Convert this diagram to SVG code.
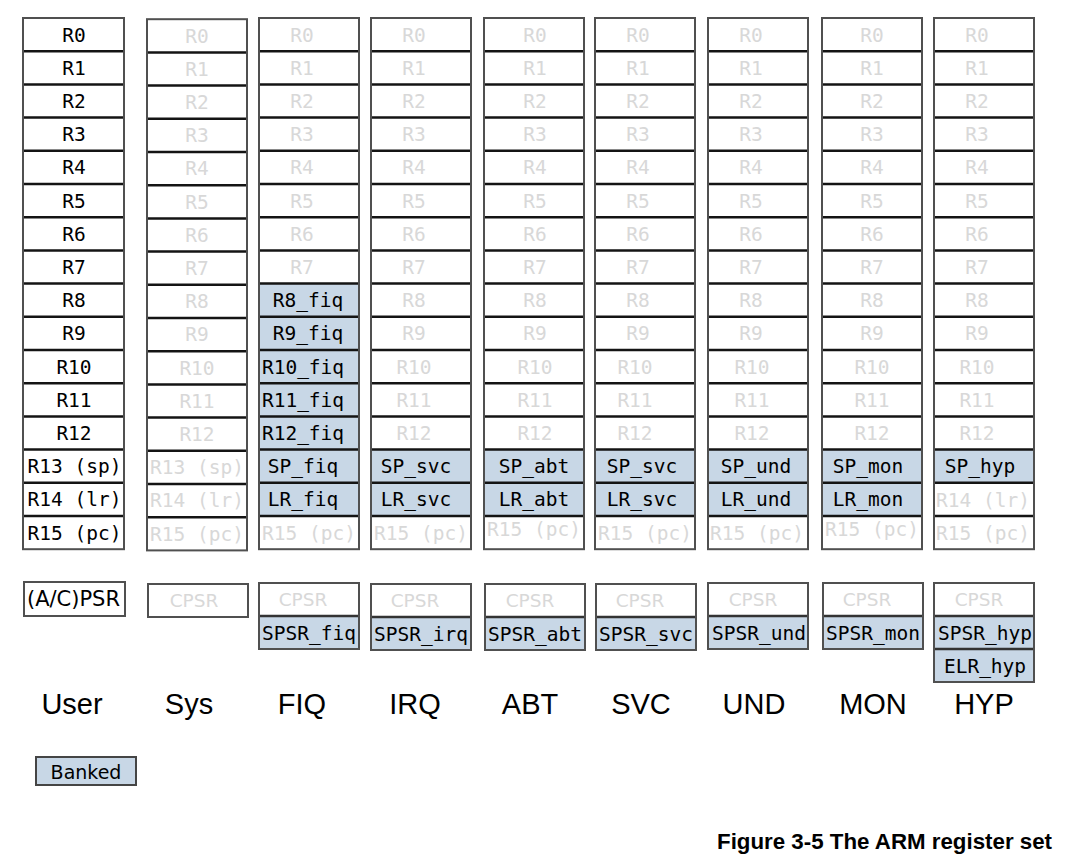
<svg xmlns="http://www.w3.org/2000/svg" width="1077" height="863" viewBox="0 0 1077 863">
<style>
.c{fill:#fff;stroke:none}
.b{fill:#c8d7e6;stroke:none}
.sep{stroke:#141414;stroke-width:2.5;fill:none}
.out{fill:none;stroke:#505050;stroke-width:2}
.t{font-family:"DejaVu Sans Mono","Liberation Mono",monospace;font-size:19.5px;text-anchor:middle;fill:#000}
.g{fill:#d8d8d8}
.p{font-family:"DejaVu Sans","Liberation Sans",sans-serif;font-size:18.5px;text-anchor:middle;fill:#d8d8d8}
.m{font-family:"Liberation Sans",Arial,sans-serif;font-size:29px;text-anchor:middle;fill:#000}
.cap{font-family:"Liberation Sans",Arial,sans-serif;font-size:22.3px;font-weight:bold;text-anchor:end;fill:#000}
</style>
<rect width="1077" height="863" fill="#fff"/>

<!-- User column -->
<g id="col-user">
<rect class="c" x="23" y="18" width="101" height="531.2"/>
<path class="sep" d="M23 51.2H124M23 84.4H124M23 117.6H124M23 150.8H124M23 184H124M23 217.2H124M23 250.4H124M23 283.6H124M23 316.8H124M23 350H124M23 383.2H124M23 416.4H124M23 449.6H124M23 482.8H124M23 516H124"/>
<rect class="out" x="23" y="18" width="101" height="531.2"/>
<text class="t" x="74" y="41.5">R0</text>
<text class="t" x="74" y="74.7">R1</text>
<text class="t" x="74" y="107.9">R2</text>
<text class="t" x="74" y="141.1">R3</text>
<text class="t" x="74" y="174.3">R4</text>
<text class="t" x="74" y="207.5">R5</text>
<text class="t" x="74" y="240.7">R6</text>
<text class="t" x="74" y="273.9">R7</text>
<text class="t" x="74" y="307.1">R8</text>
<text class="t" x="74" y="340.3">R9</text>
<text class="t" x="74" y="373.5">R10</text>
<text class="t" x="74" y="406.7">R11</text>
<text class="t" x="74" y="439.9">R12</text>
<text class="t" x="74.5" y="473.1">R13 (sp)</text>
<text class="t" x="74.5" y="506.3">R14 (lr)</text>
<text class="t" x="74.5" y="539.5">R15 (pc)</text>
</g>

<!-- Sys column -->
<g id="col-sys" transform="translate(0,1.2)">
<rect class="c" x="147" y="18" width="100" height="531.2"/>
<path class="sep" d="M147 51.2H247M147 84.4H247M147 117.6H247M147 150.8H247M147 184H247M147 217.2H247M147 250.4H247M147 283.6H247M147 316.8H247M147 350H247M147 383.2H247M147 416.4H247M147 449.6H247M147 482.8H247M147 516H247"/>
<rect class="out" x="147" y="18" width="100" height="531.2"/>
<g class="t g">
<text x="197" y="41.5">R0</text><text x="197" y="74.7">R1</text><text x="197" y="107.9">R2</text><text x="197" y="141.1">R3</text><text x="197" y="174.3">R4</text><text x="197" y="207.5">R5</text><text x="197" y="240.7">R6</text><text x="197" y="273.9">R7</text><text x="197" y="307.1">R8</text><text x="197" y="340.3">R9</text><text x="197" y="373.5">R10</text><text x="197" y="406.7">R11</text><text x="197" y="439.9">R12</text><text x="197" y="473.1">R13 (sp)</text><text x="197" y="506.3">R14 (lr)</text><text x="197" y="539.5">R15 (pc)</text>
</g>
</g>

<!-- FIQ column -->
<g id="col-fiq">
<rect class="c" x="259" y="18" width="100" height="531.2"/>
<rect class="b" x="259" y="283.6" width="100" height="232.4"/>
<path class="sep" d="M259 51.2H359M259 84.4H359M259 117.6H359M259 150.8H359M259 184H359M259 217.2H359M259 250.4H359M259 283.6H359M259 316.8H359M259 350H359M259 383.2H359M259 416.4H359M259 449.6H359M259 482.8H359M259 516H359"/>
<rect class="out" x="259" y="18" width="100" height="531.2"/>
<g class="t g">
<text x="302" y="41.5">R0</text><text x="302" y="74.7">R1</text><text x="302" y="107.9">R2</text><text x="302" y="141.1">R3</text><text x="302" y="174.3">R4</text><text x="302" y="207.5">R5</text><text x="302" y="240.7">R6</text><text x="302" y="273.9">R7</text><text x="309" y="539.5">R15 (pc)</text>
</g>
<text class="t" x="308" y="307.1">R8_fiq</text>
<text class="t" x="308" y="340.3">R9_fiq</text>
<text class="t" x="303" y="373.5">R10_fiq</text>
<text class="t" x="303" y="406.7">R11_fiq</text>
<text class="t" x="303" y="439.9">R12_fiq</text>
<text class="t" x="303" y="473.1">SP_fiq</text>
<text class="t" x="303" y="506.3">LR_fiq</text>
</g>

<!-- IRQ column -->
<g id="col-irq">
<rect class="c" x="371" y="18" width="100" height="531.2"/>
<rect class="b" x="371" y="449.6" width="100" height="66.4"/>
<path class="sep" d="M371 51.2H471M371 84.4H471M371 117.6H471M371 150.8H471M371 184H471M371 217.2H471M371 250.4H471M371 283.6H471M371 316.8H471M371 350H471M371 383.2H471M371 416.4H471M371 449.6H471M371 482.8H471M371 516H471"/>
<rect class="out" x="371" y="18" width="100" height="531.2"/>
<g class="t g">
<text x="414" y="41.5">R0</text><text x="414" y="74.7">R1</text><text x="414" y="107.9">R2</text><text x="414" y="141.1">R3</text><text x="414" y="174.3">R4</text><text x="414" y="207.5">R5</text><text x="414" y="240.7">R6</text><text x="414" y="273.9">R7</text><text x="414" y="307.1">R8</text><text x="414" y="340.3">R9</text><text x="414" y="373.5">R10</text><text x="414" y="406.7">R11</text><text x="414" y="439.9">R12</text><text x="421" y="539.5">R15 (pc)</text>
</g>
<text class="t" x="416" y="473.1">SP_svc</text>
<text class="t" x="416" y="506.3">LR_svc</text>
</g>

<!-- ABT column -->
<g id="col-abt">
<rect class="c" x="484" y="18" width="100" height="531.2"/>
<rect class="b" x="484" y="449.6" width="100" height="66.4"/>
<path class="sep" d="M484 51.2H584M484 84.4H584M484 117.6H584M484 150.8H584M484 184H584M484 217.2H584M484 250.4H584M484 283.6H584M484 316.8H584M484 350H584M484 383.2H584M484 416.4H584M484 449.6H584M484 482.8H584M484 516H584"/>
<rect class="out" x="484" y="18" width="100" height="531.2"/>
<g class="t g">
<text x="535" y="41.5">R0</text><text x="535" y="74.7">R1</text><text x="535" y="107.9">R2</text><text x="535" y="141.1">R3</text><text x="535" y="174.3">R4</text><text x="535" y="207.5">R5</text><text x="535" y="240.7">R6</text><text x="535" y="273.9">R7</text><text x="535" y="307.1">R8</text><text x="535" y="340.3">R9</text><text x="535" y="373.5">R10</text><text x="535" y="406.7">R11</text><text x="535" y="439.9">R12</text><text x="534" y="535.5">R15 (pc)</text>
</g>
<text class="t" x="534" y="473.1">SP_abt</text>
<text class="t" x="534" y="506.3">LR_abt</text>
</g>

<!-- SVC column -->
<g id="col-svc">
<rect class="c" x="595" y="18" width="100" height="531.2"/>
<rect class="b" x="595" y="449.6" width="100" height="66.4"/>
<path class="sep" d="M595 51.2H695M595 84.4H695M595 117.6H695M595 150.8H695M595 184H695M595 217.2H695M595 250.4H695M595 283.6H695M595 316.8H695M595 350H695M595 383.2H695M595 416.4H695M595 449.6H695M595 482.8H695M595 516H695"/>
<rect class="out" x="595" y="18" width="100" height="531.2"/>
<g class="t g">
<text x="638" y="41.5">R0</text><text x="638" y="74.7">R1</text><text x="638" y="107.9">R2</text><text x="638" y="141.1">R3</text><text x="638" y="174.3">R4</text><text x="638" y="207.5">R5</text><text x="638" y="240.7">R6</text><text x="638" y="273.9">R7</text><text x="638" y="307.1">R8</text><text x="638" y="340.3">R9</text><text x="635" y="373.5">R10</text><text x="635" y="406.7">R11</text><text x="635" y="439.9">R12</text><text x="645" y="539.5">R15 (pc)</text>
</g>
<text class="t" x="642" y="473.1">SP_svc</text>
<text class="t" x="642" y="506.3">LR_svc</text>
</g>

<!-- UND column -->
<g id="col-und">
<rect class="c" x="708" y="18" width="100" height="531.2"/>
<rect class="b" x="708" y="449.6" width="100" height="66.4"/>
<path class="sep" d="M708 51.2H808M708 84.4H808M708 117.6H808M708 150.8H808M708 184H808M708 217.2H808M708 250.4H808M708 283.6H808M708 316.8H808M708 350H808M708 383.2H808M708 416.4H808M708 449.6H808M708 482.8H808M708 516H808"/>
<rect class="out" x="708" y="18" width="100" height="531.2"/>
<g class="t g">
<text x="751" y="41.5">R0</text><text x="751" y="74.7">R1</text><text x="751" y="107.9">R2</text><text x="751" y="141.1">R3</text><text x="751" y="174.3">R4</text><text x="751" y="207.5">R5</text><text x="751" y="240.7">R6</text><text x="751" y="273.9">R7</text><text x="751" y="307.1">R8</text><text x="751" y="340.3">R9</text><text x="752" y="373.5">R10</text><text x="752" y="406.7">R11</text><text x="752" y="439.9">R12</text><text x="757" y="539.5">R15 (pc)</text>
</g>
<text class="t" x="756" y="473.1">SP_und</text>
<text class="t" x="756" y="506.3">LR_und</text>
</g>

<!-- MON column -->
<g id="col-mon">
<rect class="c" x="822" y="18" width="100" height="531.2"/>
<rect class="b" x="822" y="449.6" width="100" height="66.4"/>
<path class="sep" d="M822 51.2H922M822 84.4H922M822 117.6H922M822 150.8H922M822 184H922M822 217.2H922M822 250.4H922M822 283.6H922M822 316.8H922M822 350H922M822 383.2H922M822 416.4H922M822 449.6H922M822 482.8H922M822 516H922"/>
<rect class="out" x="822" y="18" width="100" height="531.2"/>
<g class="t g">
<text x="872" y="41.5">R0</text><text x="872" y="74.7">R1</text><text x="872" y="107.9">R2</text><text x="872" y="141.1">R3</text><text x="872" y="174.3">R4</text><text x="872" y="207.5">R5</text><text x="872" y="240.7">R6</text><text x="872" y="273.9">R7</text><text x="872" y="307.1">R8</text><text x="872" y="340.3">R9</text><text x="872" y="373.5">R10</text><text x="872" y="406.7">R11</text><text x="872" y="439.9">R12</text><text x="872" y="535.5">R15 (pc)</text>
</g>
<text class="t" x="868" y="473.1">SP_mon</text>
<text class="t" x="868" y="506.3">LR_mon</text>
</g>

<!-- HYP column -->
<g id="col-hyp">
<rect class="c" x="934" y="18" width="100" height="531.2"/>
<rect class="b" x="934" y="449.6" width="100" height="33.2"/>
<path class="sep" d="M934 51.2H1034M934 84.4H1034M934 117.6H1034M934 150.8H1034M934 184H1034M934 217.2H1034M934 250.4H1034M934 283.6H1034M934 316.8H1034M934 350H1034M934 383.2H1034M934 416.4H1034M934 449.6H1034M934 482.8H1034M934 516H1034"/>
<rect class="out" x="934" y="18" width="100" height="531.2"/>
<g class="t g">
<text x="977" y="41.5">R0</text><text x="977" y="74.7">R1</text><text x="977" y="107.9">R2</text><text x="977" y="141.1">R3</text><text x="977" y="174.3">R4</text><text x="977" y="207.5">R5</text><text x="977" y="240.7">R6</text><text x="977" y="273.9">R7</text><text x="977" y="307.1">R8</text><text x="977" y="340.3">R9</text><text x="977" y="373.5">R10</text><text x="977" y="406.7">R11</text><text x="977" y="439.9">R12</text><text x="983" y="507.3">R14 (lr)</text><text x="983" y="539.5">R15 (pc)</text>
</g>
<text class="t" x="980" y="473.1">SP_hyp</text>
</g>

<!-- PSR boxes -->
<g id="psr-user">
<rect x="24" y="582" width="101" height="34" fill="#fff" stroke="#505050" stroke-width="2"/>
<text x="73.5" y="606" font-family="DejaVu Sans, Liberation Sans, sans-serif" font-size="21" text-anchor="middle">(A/C)PSR</text>
</g>
<g id="psr-sys">
<rect x="148" y="584" width="100" height="33" fill="#fff" stroke="#505050" stroke-width="2"/>
<text class="p" x="194" y="607">CPSR</text>
</g>
<g id="psr-fiq">
<rect class="c" x="259" y="583" width="100" height="33"/>
<rect class="b" x="259" y="616" width="100" height="33"/>
<path class="sep" d="M259 616H359" style="stroke:#333"/>
<rect class="out" x="259" y="583" width="100" height="66"/>
<text class="p" x="303" y="606">CPSR</text>
<text class="t" x="309" y="640">SPSR_fiq</text>
</g>
<g id="psr-irq">
<rect class="c" x="371" y="584" width="100" height="33"/>
<rect class="b" x="371" y="617" width="100" height="33"/>
<path class="sep" d="M371 617H471" style="stroke:#333"/>
<rect class="out" x="371" y="584" width="100" height="66"/>
<text class="p" x="415" y="607">CPSR</text>
<text class="t" x="421" y="641">SPSR_irq</text>
</g>
<g id="psr-abt">
<rect class="c" x="485" y="584" width="100" height="33"/>
<rect class="b" x="485" y="617" width="100" height="33"/>
<path class="sep" d="M485 617H585" style="stroke:#333"/>
<rect class="out" x="485" y="584" width="100" height="66"/>
<text class="p" x="530" y="607">CPSR</text>
<text class="t" x="535" y="641">SPSR_abt</text>
</g>
<g id="psr-svc">
<rect class="c" x="596" y="584" width="100" height="33"/>
<rect class="b" x="596" y="617" width="100" height="33"/>
<path class="sep" d="M596 617H696" style="stroke:#333"/>
<rect class="out" x="596" y="584" width="100" height="66"/>
<text class="p" x="640" y="607">CPSR</text>
<text class="t" x="646" y="641">SPSR_svc</text>
</g>
<g id="psr-und">
<rect class="c" x="708" y="583" width="100" height="33"/>
<rect class="b" x="708" y="616" width="100" height="33"/>
<path class="sep" d="M708 616H808" style="stroke:#333"/>
<rect class="out" x="708" y="583" width="100" height="66"/>
<text class="p" x="753" y="606">CPSR</text>
<text class="t" x="759" y="640">SPSR_und</text>
</g>
<g id="psr-mon">
<rect class="c" x="823" y="583" width="100" height="33"/>
<rect class="b" x="823" y="616" width="100" height="33"/>
<path class="sep" d="M823 616H923" style="stroke:#333"/>
<rect class="out" x="823" y="583" width="100" height="66"/>
<text class="p" x="867" y="606">CPSR</text>
<text class="t" x="873" y="640">SPSR_mon</text>
</g>
<g id="psr-hyp">
<rect class="c" x="934" y="583" width="100" height="33"/>
<rect class="b" x="934" y="616" width="100" height="66"/>
<path class="sep" d="M934 616H1034M934 649H1034" style="stroke:#333"/>
<rect class="out" x="934" y="583" width="100" height="99"/>
<text class="p" x="979" y="606">CPSR</text>
<text class="t" x="985" y="640">SPSR_hyp</text>
<text class="t" x="985" y="673">ELR_hyp</text>
</g>

<!-- Mode labels -->
<g id="labels">
<text class="m" x="72" y="714">User</text>
<text class="m" x="189" y="714">Sys</text>
<text class="m" x="302" y="714">FIQ</text>
<text class="m" x="415" y="714">IRQ</text>
<text class="m" x="530" y="714">ABT</text>
<text class="m" x="641" y="714">SVC</text>
<text class="m" x="754" y="714">UND</text>
<text class="m" x="873" y="714">MON</text>
<text class="m" x="984" y="714">HYP</text>
</g>

<!-- Legend -->
<g id="legend-banked">
<rect x="36" y="757" width="100" height="28" fill="#c8d7e6" stroke="#454545" stroke-width="2"/>
<text x="86" y="779" font-family="DejaVu Sans, Liberation Sans, sans-serif" font-size="19" text-anchor="middle">Banked</text>
</g>

<g id="connectors"></g>

<text class="cap" x="1052" y="849">Figure 3-5 The ARM register set</text>
</svg>
